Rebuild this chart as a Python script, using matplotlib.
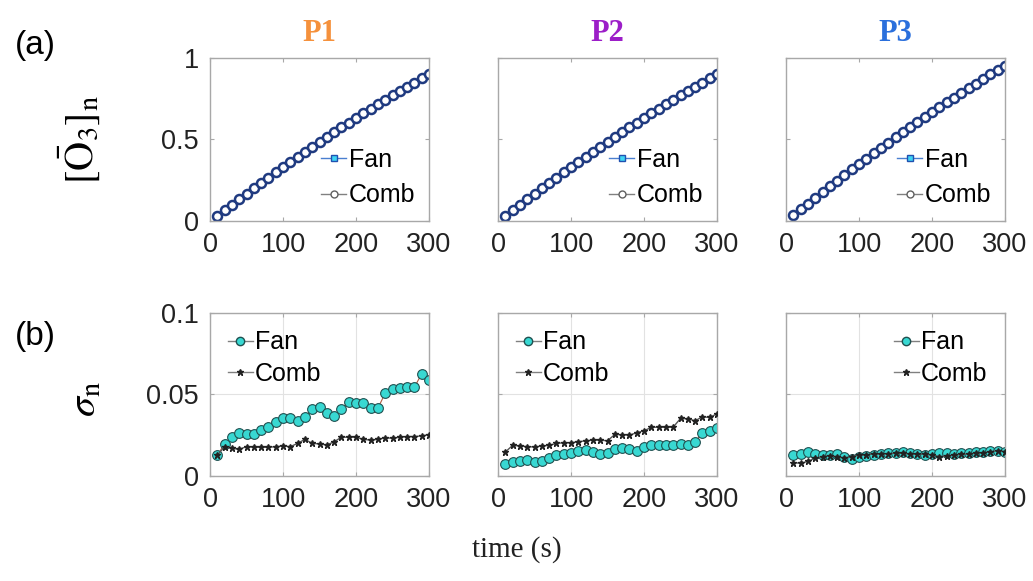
import numpy as np
import matplotlib
matplotlib.use('Agg')
import matplotlib.pyplot as plt
from matplotlib.lines import Line2D

plt.rcParams['font.family'] = 'Liberation Sans'
plt.rcParams['mathtext.fontset'] = 'stix'

# time points (s)
t = np.arange(10, 301, 10)

# (a) normalised ozone concentration
o3_p1_fan = [0.03, 0.065, 0.099, 0.133, 0.167, 0.200, 0.233, 0.266, 0.298, 0.330,
             0.362, 0.393, 0.424, 0.455, 0.485, 0.515, 0.545, 0.574, 0.603, 0.632,
             0.660, 0.688, 0.716, 0.743, 0.770, 0.797, 0.823, 0.849, 0.875, 0.90]
o3_p1_comb = o3_p1_fan
o3_p2_fan = [0.03, 0.065, 0.099, 0.133, 0.167, 0.200, 0.233, 0.266, 0.298, 0.330,
             0.362, 0.393, 0.424, 0.455, 0.485, 0.515, 0.545, 0.574, 0.603, 0.632,
             0.660, 0.688, 0.716, 0.743, 0.770, 0.797, 0.823, 0.849, 0.875, 0.90]
o3_p2_comb = o3_p2_fan
o3_p3_fan = [0.035, 0.071, 0.107, 0.143, 0.178, 0.213, 0.248, 0.282, 0.316, 0.350,
             0.383, 0.416, 0.449, 0.481, 0.513, 0.545, 0.576, 0.607, 0.638, 0.668,
             0.698, 0.728, 0.757, 0.786, 0.815, 0.843, 0.871, 0.899, 0.926, 0.953]
o3_p3_comb = o3_p3_fan

# (b) standard deviation
sig_p1_fan = [0.0127, 0.0197, 0.0242, 0.0262, 0.026, 0.0256, 0.028, 0.030, 0.033, 0.0355,
              0.0355, 0.034, 0.0365, 0.041, 0.0426, 0.0385, 0.037, 0.041, 0.0457, 0.0447,
              0.0447, 0.0416, 0.0416, 0.0508, 0.0533, 0.054, 0.0545, 0.0545, 0.0627, 0.059]
sig_p1_comb = [0.0127, 0.018, 0.017, 0.0164, 0.018, 0.0176, 0.0176, 0.0176, 0.018, 0.0184,
               0.018, 0.020, 0.0225, 0.020, 0.0197, 0.019, 0.021, 0.0238, 0.0238, 0.0238,
               0.0225, 0.022, 0.0225, 0.0234, 0.0232, 0.0238, 0.0242, 0.0242, 0.0246, 0.0254]
sig_p2_fan = [0.0076, 0.0086, 0.0094, 0.0096, 0.0086, 0.0094, 0.0108, 0.0126, 0.0133, 0.0143,
              0.0151, 0.0159, 0.0147, 0.0133, 0.0143, 0.0163, 0.0171, 0.0163, 0.0155, 0.018,
              0.0188, 0.0192, 0.0192, 0.0192, 0.0196, 0.0192, 0.021, 0.0265, 0.0276, 0.0296]
sig_p2_comb = [0.0147, 0.0188, 0.0184, 0.018, 0.0178, 0.0184, 0.0188, 0.020, 0.0204, 0.0204,
               0.021, 0.0216, 0.022, 0.022, 0.0216, 0.0255, 0.0253, 0.0251, 0.0265, 0.0278,
               0.0298, 0.030, 0.0298, 0.030, 0.0353, 0.0351, 0.0339, 0.0363, 0.0359, 0.0382]
sig_p3_fan = [0.0129, 0.0135, 0.0148, 0.0135, 0.0129, 0.0129, 0.0133, 0.0119, 0.0102, 0.0115,
              0.0123, 0.0127, 0.0135, 0.0139, 0.0143, 0.0145, 0.0139, 0.0135, 0.0129, 0.0133,
              0.0139, 0.0139, 0.0135, 0.0139, 0.0143, 0.0148, 0.015, 0.0156, 0.0156, 0.0148]
sig_p3_comb = [0.0082, 0.0078, 0.009, 0.0109, 0.0119, 0.0123, 0.0119, 0.0111, 0.0119, 0.0127,
               0.0131, 0.0135, 0.0135, 0.0137, 0.0139, 0.0139, 0.0135, 0.0133, 0.0135, 0.0129,
               0.0119, 0.0123, 0.0127, 0.0133, 0.0135, 0.0139, 0.0143, 0.0148, 0.0156, 0.015]

titles = ['P1', 'P2', 'P3']
title_colors = ['#f5913c', '#9c1ec8', '#2a6fdc']
o3_fan = [o3_p1_fan, o3_p2_fan, o3_p3_fan]
o3_comb = [o3_p1_comb, o3_p2_comb, o3_p3_comb]
sig_fan = [sig_p1_fan, sig_p2_fan, sig_p3_fan]
sig_comb = [sig_p1_comb, sig_p2_comb, sig_p3_comb]
sig_legend_loc = ['upper left', 'upper left', 'upper right']

fig = plt.figure(figsize=(10.33, 5.81), dpi=100)
lefts = [0.2033, 0.4821, 0.7609]
w, h = 0.212, 0.2806


def style_axis(ax):
    for s in ax.spines.values():
        s.set_color('#a8a8a8')
        s.set_linewidth(1.0)
    ax.tick_params(direction='in', length=3, color='#a8a8a8', labelsize=19.5,
                   labelcolor='#222222', pad=8, top=True, right=True)
    ax.set_xlim(0, 300)
    ax.set_xticks([0, 100, 200, 300])


for i in range(3):
    # top row
    ax = fig.add_axes([lefts[i], 0.6196, w, h])
    style_axis(ax)
    ax.plot(t, o3_fan[i], '-s', color='#4a7fd0', lw=1, ms=5,
            mfc='#3fd4f4', mec='#2050b0', label='Fan')
    ax.plot(t, o3_comb[i], '-o', color='#808080', lw=1, ms=6.5,
            mfc='white', mec='#1f3a80', mew=1.8, label='Comb')
    ax.set_ylim(0, 1)
    ax.set_yticks([0, 0.5, 1])
    ax.set_yticklabels(['0', '0.5', '1'])
    if i > 0:
        ax.tick_params(labelleft=False)
    ax.set_title(titles[i], color=title_colors[i], family='Liberation Serif',
                 fontweight='bold', fontsize=22, pad=12)
    leg_h = [Line2D([], [], color='#4a7fd0', lw=1, marker='s', ms=5,
                    mfc='#3fd4f4', mec='#2050b0'),
             Line2D([], [], color='#808080', lw=1, marker='o', ms=5,
                    mfc='white', mec='#606060')]
    ax.legend(leg_h, ['Fan', 'Comb'], loc='lower right', frameon=False,
              fontsize=18, handlelength=1.0, handletextpad=0.1,
              labelspacing=0.45, borderaxespad=0.15)

    # bottom row
    ax2 = fig.add_axes([lefts[i], 0.1807, w, h])
    style_axis(ax2)
    ax2.grid(True, color='#e2e2e2', lw=0.8)
    ax2.plot(t, sig_comb[i], '-*', color='#555555', lw=1, ms=5,
             mfc='#222222', mec='#222222', label='Comb', zorder=3)
    ax2.plot(t, sig_fan[i], '-o', color='#b05a40', lw=0.8, ms=7,
             mfc='#38d8d2', mec='#205050', mew=0.8, label='Fan', zorder=2)
    ax2.set_ylim(0, 0.1)
    ax2.set_yticks([0, 0.05, 0.1])
    ax2.set_yticklabels(['0', '0.05', '0.1'])
    if i > 0:
        ax2.tick_params(labelleft=False)
    leg_h2 = [Line2D([], [], color='#808080', lw=1, marker='o', ms=6,
                     mfc='#38d8d2', mec='#205050'),
              Line2D([], [], color='#808080', lw=1, marker='*', ms=5,
                     mfc='#222222', mec='#222222')]
    ax2.legend(leg_h2, ['Fan', 'Comb'], loc=sig_legend_loc[i], frameon=False,
               fontsize=18, handlelength=1.0, handletextpad=0.1,
               labelspacing=0.3, borderaxespad=0.3)

fig.text(0.034, 0.922, '(a)', fontsize=24, ha='center', va='center')
fig.text(0.034, 0.42, '(b)', fontsize=24, ha='center', va='center')
fig.text(0.077, 0.76, r'$[\bar{\mathrm{O}}_3]_\mathrm{n}$', fontsize=29,
         rotation=90, ha='center', va='center')
fig.text(0.082, 0.313, r'$\sigma_\mathrm{n}$', fontsize=29,
         rotation=90, ha='center', va='center')
fig.text(0.5, 0.055, 'time (s)', fontsize=21, family='Liberation Serif',
         ha='center', va='center', color='#222222')

fig.savefig('out.png', dpi=100)
